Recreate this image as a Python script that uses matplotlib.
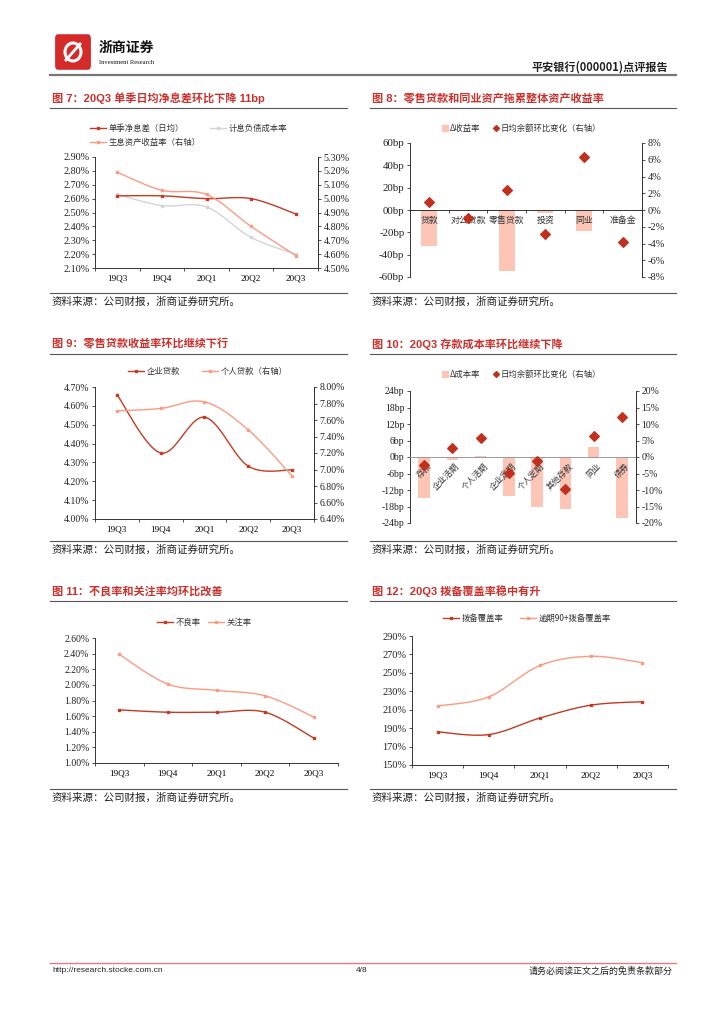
import numpy as np
import matplotlib
matplotlib.use('Agg')
import matplotlib.pyplot as plt
from matplotlib.lines import Line2D
from matplotlib.patches import FancyBboxPatch, Rectangle, Ellipse

plt.rcParams['font.family'] = ['Liberation Serif', 'Noto Sans CJK SC', 'DejaVu Sans']
CJK = ['Noto Sans CJK SC', 'DejaVu Sans']
TITLE_FONT = ['Liberation Sans', 'Noto Sans CJK SC', 'DejaVu Sans']

W, H = 724, 1024
quarters = ['19Q3', '19Q4', '20Q1', '20Q2', '20Q3']

# fig 7 - 净息差
nim = [2.62, 2.62, 2.60, 2.60, 2.49]
liab_cost = [2.63, 2.55, 2.54, 2.32, 2.20]
asset_yield = [5.19, 5.06, 5.03, 4.80, 4.59]

# fig 8 - 资产收益率
f8_cats = ['贷款', '对公贷款', '零售贷款', '投资', '同业', '准备金']
f8_dyield = [-32, -1, -55, -3, -19, 0]
f8_bal = [1.0, -1.0, 2.4, -2.9, 6.3, -3.8]

# fig 9 - 贷款收益率
corp_loan = [4.66, 4.35, 4.54, 4.28, 4.26]
retail_loan = [7.71, 7.74, 7.82, 7.48, 6.92]

# fig 10 - 负债成本率
f10_cats = ['存款', '企业活期', '个人活期', '企业定期', '个人定期', '其他存款', '同业', '债券']
f10_dcost = [-15, -1, 0.3, -14, -18, -19, 3.6, -22]
f10_bal = [-2.3, 2.7, 5.8, -4.8, -1.1, -9.6, 6.4, 12.1]

# fig 11 - 资产质量
npl = [1.68, 1.65, 1.65, 1.65, 1.32]
sml = [2.39, 2.01, 1.93, 1.86, 1.59]

# fig 12 - 拨备
cov = [186, 183, 201, 215, 218.7]
cov90 = [214, 224, 258, 268, 261]

DARK = '#C23B22'
LIGHT = '#FA9B82'
GRAY = '#D4D4D4'
BAR = '#FCC5B6'
DIAM = '#C0301E'
AX = '#333333'
TRED = '#C9302C'

fig = plt.figure(figsize=(W / 100, H / 100), dpi=100)


def fx(x):
    return x / W


def fy(y):
    return 1 - y / H


def add_ax(x0, y0, x1, y1):
    return fig.add_axes([fx(x0), fy(y1), (x1 - x0) / W, (y1 - y0) / H])


def hline(x0, x1, y, color='#555555', lw=0.8):
    fig.add_artist(Line2D([fx(x0), fx(x1)], [fy(y), fy(y)], color=color, lw=lw))


def smooth(y, n=24):
    x = np.arange(len(y), dtype=float)
    y = np.asarray(y, dtype=float)
    px = np.concatenate([[x[0]], x, [x[-1]]])
    py = np.concatenate([[y[0]], y, [y[-1]]])
    t = np.linspace(0, 1, n)[:, None]
    out = []
    for i in range(1, len(x)):
        p0 = np.array([px[i - 1], py[i - 1]])
        p1 = np.array([px[i], py[i]])
        p2 = np.array([px[i + 1], py[i + 1]])
        p3 = np.array([px[i + 2], py[i + 2]])
        c1 = p1 + (p2 - p0) / 6
        c2 = p2 - (p3 - p1) / 6
        seg = ((1 - t) ** 3) * p1 + 3 * ((1 - t) ** 2) * t * c1 + 3 * (1 - t) * t ** 2 * c2 + t ** 3 * p2
        out.append(seg if i == 1 else seg[1:])
    out = np.vstack(out)
    return out[:, 0], out[:, 1]


def series(ax, y, color, lw=1.0):
    sx, sy = smooth(y)
    ax.plot(sx, sy, color=color, lw=lw, zorder=3)
    ax.plot(range(len(y)), y, ls='none', marker='s', ms=1.7, color=color, zorder=4)


def base_style(ax, right=False, size=7):
    ax.spines['top'].set_visible(False)
    ax.spines['right'].set_visible(right)
    for s in ax.spines.values():
        s.set_color(AX)
        s.set_linewidth(0.7)
    ax.tick_params(direction='out', length=2.5, width=0.6, labelsize=size,
                   color=AX, labelcolor='#222222', pad=1.5)
    ax.patch.set_alpha(0)


def quarter_axis(ax, n=5):
    ax.set_xlim(-0.5, n - 0.5)
    ax.set_xticks(np.arange(n + 1) - 0.5)
    ax.set_xticklabels([])
    ax.set_xticks(np.arange(n), minor=True)
    ax.set_xticklabels(quarters, minor=True)
    ax.tick_params(axis='x', which='minor', length=0, pad=4.5, labelsize=6.6)


def pct_ticks(ax, lo, hi, step, fmt):
    ticks = np.arange(lo, hi + step / 2, step)
    ax.set_ylim(lo, hi)
    ax.set_yticks(ticks)
    ax.set_yticklabels([fmt % v for v in ticks])


def leg_line(x, y, color, label):
    fig.add_artist(Line2D([fx(x), fx(x + 16)], [fy(y), fy(y)], color=color, lw=1.0))
    fig.add_artist(Line2D([fx(x + 8)], [fy(y)], marker='s', ms=1.7, color=color))
    fig.text(fx(x + 19), fy(y), label, fontsize=6, family=CJK, va='center', color='#333333')


def leg_bar(x, y, label):
    fig.add_artist(Rectangle((fx(x - 3), fy(y + 3)), 6 / W, 6 / H, color=BAR, transform=fig.transFigure))
    fig.text(fx(x + 5), fy(y), label, fontsize=6, family=CJK, va='center', color='#333333')


def leg_diam(x, y, label):
    fig.add_artist(Line2D([fx(x)], [fy(y)], marker='D', ms=3, color=DIAM, ls='none'))
    fig.text(fx(x + 5), fy(y), label, fontsize=6, family=CJK, va='center', color='#333333')


def section(x0, x1, title_y, src_y, title):
    fig.text(fx(x0 + 2), fy(title_y), title, color=TRED, fontsize=8, fontweight='bold',
             family=TITLE_FONT, va='center')
    hline(x0, x1, title_y + 10)
    hline(x0, x1, src_y - 9)
    fig.text(fx(x0 + 2), fy(src_y), '资料来源：公司财报，浙商证券研究所。', fontsize=7.6,
             family=CJK, va='center', color='#222222')


# ---------- header ----------
fig.add_artist(FancyBboxPatch((fx(58), fy(66)), 30 / W, 28 / H, boxstyle='round,pad=0.003',
                              color='#D42A2A', transform=fig.transFigure))
fig.add_artist(Ellipse((fx(73), fy(52)), 16 / W, 18 / H, fill=False, ec='white', lw=2.2,
                       transform=fig.transFigure))
fig.add_artist(Line2D([fx(66), fx(80)], [fy(60), fy(44)], color='white', lw=2.0))
fig.text(fx(99), fy(48), '浙商证券', fontsize=10, fontweight='bold', family=CJK, va='center', color='#111111')
fig.text(fx(99), fy(62), 'Investment Research', fontsize=4.8, family=['Liberation Serif'], va='center',
         color='#111111')
fig.text(fx(668), fy(67), '平安银行(000001)点评报告', fontsize=8, fontweight='bold', family=CJK,
         ha='right', va='center', color='#222222')
hline(50, 676, 75, color='#777777', lw=1.6)

# ---------- sections ----------
section(50, 347, 98, 302, '图 7：20Q3 单季日均净息差环比下降 11bp')
section(370, 676, 98, 302, '图 8：零售贷款和同业资产拖累整体资产收益率')
section(50, 347, 344, 550, '图 9：零售贷款收益率环比继续下行')
section(370, 676, 344, 550, '图 10：20Q3 存款成本率环比继续下降')
section(50, 347, 591, 798, '图 11：不良率和关注率均环比改善')
section(370, 676, 591, 798, '图 12：20Q3 拨备覆盖率稳中有升')

# ---------- fig 7 ----------
ax = add_ax(95, 157, 318, 268)
base_style(ax, right=True, size=7.3)
quarter_axis(ax)
pct_ticks(ax, 2.10, 2.90, 0.10, '%.2f%%')
ax2 = ax.twinx()
base_style(ax2, right=True, size=7.3)
pct_ticks(ax2, 4.50, 5.30, 0.10, '%.2f%%')
ax2.spines['left'].set_visible(False)
ax2.spines['bottom'].set_visible(False)
series(ax, liab_cost, GRAY)
series(ax, nim, DARK)
series(ax2, asset_yield, LIGHT)
leg_line(90, 128, DARK, '单季净息差（日均）')
leg_line(210, 128, GRAY, '计息负债成本率')
leg_line(90, 142, LIGHT, '生息资产收益率（右轴）')

# ---------- fig 8 ----------
ax = add_ax(410, 143, 642, 277)
base_style(ax, right=True, size=7.8)
x8 = np.arange(len(f8_cats))
ax.bar(x8, f8_dyield, width=0.42, color=BAR, zorder=2)
ax.set_xlim(-0.5, len(f8_cats) - 0.5)
ax.set_ylim(-60, 60)
ax.set_yticks(np.arange(-60, 61, 20))
ax.set_yticklabels(['%dbp' % v if v != 0 else '00bp' for v in np.arange(-60, 61, 20)])
ax.spines['bottom'].set_position(('data', 0))
ax.set_xticks(np.arange(len(f8_cats) + 1) - 0.5)
ax.set_xticklabels([])
for i, c in enumerate(f8_cats):
    ax.annotate(c, (i, 0), xytext=(0, -7.5), textcoords='offset points', ha='center', va='center',
                fontsize=6.4, family=CJK, color='#333333', zorder=5)
ax2 = ax.twinx()
base_style(ax2, right=True, size=7.5)
ax2.spines['left'].set_visible(False)
ax2.spines['bottom'].set_visible(False)
ax2.set_ylim(-8, 8)
ax2.set_yticks(np.arange(-8, 9, 2))
ax2.set_yticklabels(['%d%%' % v for v in np.arange(-8, 9, 2)])
ax2.scatter(x8, f8_bal, marker='D', s=24, color=DIAM, zorder=5)
leg_bar(445, 128, 'Δ收益率')
leg_diam(496, 128, '日均余额环比变化（右轴）')

# ---------- fig 9 ----------
ax = add_ax(95, 387, 314, 519)
base_style(ax, right=True, size=7)
quarter_axis(ax)
pct_ticks(ax, 4.00, 4.70, 0.10, '%.2f%%')
ax2 = ax.twinx()
base_style(ax2, right=True, size=7)
pct_ticks(ax2, 6.40, 8.00, 0.20, '%.2f%%')
ax2.spines['left'].set_visible(False)
ax2.spines['bottom'].set_visible(False)
series(ax, corp_loan, DARK)
series(ax2, retail_loan, LIGHT)
leg_line(128, 371, DARK, '企业贷款')
leg_line(202, 371, LIGHT, '个人贷款（右轴）')

# ---------- fig 10 ----------
ax = add_ax(410, 391, 636, 523)
base_style(ax, right=True, size=7)
x10 = np.arange(len(f10_cats))
ax.bar(x10, f10_dcost, width=0.4, color=BAR, zorder=2)
ax.set_xlim(-0.5, len(f10_cats) - 0.5)
ax.set_ylim(-24, 24)
ax.set_yticks(np.arange(-24, 25, 6))
ax.set_yticklabels(['%dbp' % v for v in np.arange(-24, 25, 6)])
ax.spines['bottom'].set_position(('data', 0))
ax.spines['bottom'].set_color('#999999')
ax.set_xticks(np.arange(len(f10_cats) + 1) - 0.5)
ax.set_xticklabels([])
ax.tick_params(axis='x', length=0)
for i, c in enumerate(f10_cats):
    ax.annotate(c, (i, 0), xytext=(2, -3), textcoords='offset points', ha='right', va='top',
                rotation=45, rotation_mode='anchor', fontsize=6, family=CJK, color='#333333',
                zorder=5)
ax2 = ax.twinx()
base_style(ax2, right=True, size=7)
ax2.spines['left'].set_visible(False)
ax2.spines['bottom'].set_visible(False)
ax2.set_ylim(-20, 20)
ax2.set_yticks(np.arange(-20, 21, 5))
ax2.set_yticklabels(['%d%%' % v for v in np.arange(-20, 21, 5)])
ax2.scatter(x10, f10_bal, marker='D', s=24, color=DIAM, zorder=5)
leg_bar(445, 374, 'Δ成本率')
leg_diam(496, 374, '日均余额环比变化（右轴）')

# ---------- fig 11 ----------
ax = add_ax(95, 638, 338, 763)
base_style(ax, size=7)
quarter_axis(ax)
pct_ticks(ax, 1.00, 2.60, 0.20, '%.2f%%')
series(ax, npl, DARK)
series(ax, sml, LIGHT)
leg_line(157, 622, DARK, '不良率')
leg_line(208, 622, LIGHT, '关注率')

# ---------- fig 12 ----------
ax = add_ax(412, 636, 668, 765)
base_style(ax, size=7.5)
quarter_axis(ax)
pct_ticks(ax, 150, 290, 20, '%d%%')
series(ax, cov, DARK)
series(ax, cov90, LIGHT)
leg_line(443, 618, DARK, '拨备覆盖率')
leg_line(520, 618, LIGHT, '逾期90+拨备覆盖率')

# ---------- footer ----------
hline(50, 676, 963, color='#E07C7C', lw=1.0)
fig.text(fx(52), fy(971), 'http://research.stocke.com.cn', fontsize=6, family=['Liberation Sans'],
         va='center', color='#222222')
fig.text(fx(362), fy(971), '4/8', fontsize=6, family=['Liberation Sans'], ha='center', va='center',
         color='#222222')
fig.text(fx(673), fy(971), '请务必阅读正文之后的免责条款部分', fontsize=6.5, family=CJK, ha='right',
         va='center', color='#222222')

fig.savefig('out.png', dpi=100)
